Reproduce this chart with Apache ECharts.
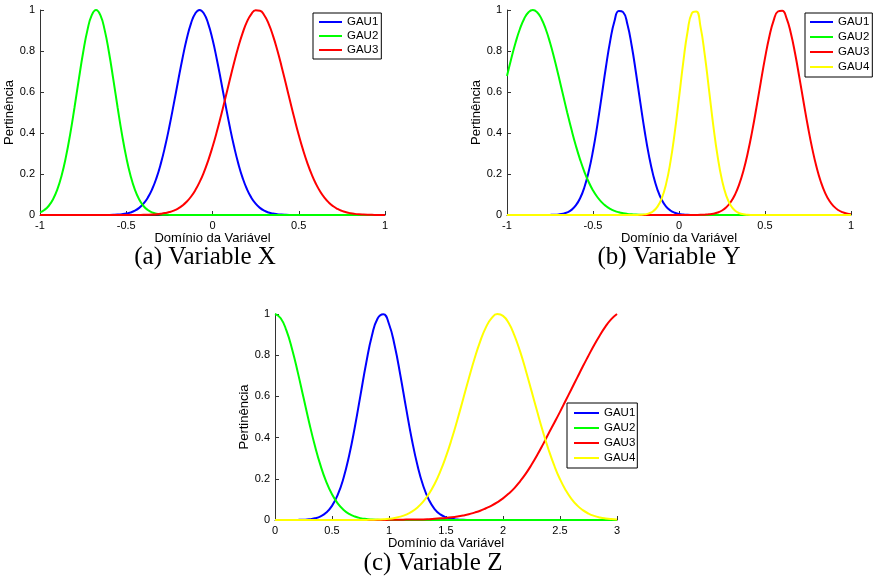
<!DOCTYPE html>
<html>
<head>
<meta charset="utf-8">
<script src="https://cdn.jsdelivr.net/npm/echarts@6/dist/echarts.min.js"></script>
<style>html,body{margin:0;padding:0;background:#fff;}#chart{width:875px;height:577px;}</style>
</head>
<body>
<div id="chart"></div>
<script>
// ---- Data ----
const xAB = [-1,-0.975,-0.95,-0.925,-0.9,-0.875,-0.85,-0.825,-0.8,-0.775,
  -0.75,-0.725,-0.7,-0.675,-0.65,-0.625,-0.6,-0.575,-0.55,-0.525,
  -0.5,-0.475,-0.45,-0.425,-0.4,-0.375,-0.35,-0.325,-0.3,-0.275,
  -0.25,-0.225,-0.2,-0.175,-0.15,-0.125,-0.1,-0.075,-0.05,-0.025,
  0,0.025,0.05,0.075,0.1,0.125,0.15,0.175,0.2,0.225,
  0.25,0.275,0.3,0.325,0.35,0.375,0.4,0.425,0.45,0.475,
  0.5,0.525,0.55,0.575,0.6,0.625,0.65,0.675,0.7,0.725,
  0.75,0.775,0.8,0.825,0.85,0.875,0.9,0.925,0.95,0.975,
  1];
const xC = [0,0.05,0.1,0.15,0.2,0.25,0.3,0.35,0.4,0.45,
  0.5,0.55,0.6,0.65,0.7,0.75,0.8,0.85,0.9,0.95,
  1,1.05,1.1,1.15,1.2,1.25,1.3,1.35,1.4,1.45,
  1.5,1.55,1.6,1.65,1.7,1.75,1.8,1.85,1.9,1.95,
  2,2.05,2.1,2.15,2.2,2.25,2.3,2.35,2.4,2.45,
  2.5,2.55,2.6,2.65,2.7,2.75,2.8,2.85,2.9,2.95,
  3];

// (a) Variable X
const aGAU1 = [0,0,0,0,0,0,0,0,0,0,
  0,0,0,0,0.0001,0.0002,0.0005,0.0011,0.0021,0.0039,
  0.0070,0.0124,0.0211,0.0347,0.0551,0.0847,0.1256,0.1800,0.2494,0.3337,
  0.4316,0.5394,0.6514,0.7601,0.8570,0.9337,0.9830,1,0.9830,0.9337,
  0.8570,0.7601,0.6514,0.5394,0.4316,0.3337,0.2494,0.1800,0.1256,0.0847,
  0.0551,0.0347,0.0211,0.0124,0.0070,0.0039,0.0021,0.0011,0.0005,0.0002,
  0.0001,0,0,0,0,0,0,0,0,0,
  0,0,0,0,0,0,0,0,0,0,
  0];
const aGAU2 = [0.0127,0.0243,0.0439,0.0756,0.1234,0.1915,0.2821,0.3947,0.5243,0.6615,
  0.7926,0.9018,0.9745,1,0.9745,0.9018,0.7926,0.6615,0.5243,0.3947,
  0.2821,0.1915,0.1234,0.0756,0.0439,0.0243,0.0127,0.0063,0.0030,0.0013,
  0.0006,0.0002,0.0001,0,0,0,0,0,0,0,
  0,0,0,0,0,0,0,0,0,0,
  0,0,0,0,0,0,0,0,0,0,
  0,0,0,0,0,0,0,0,0,0,
  0,0,0,0,0,0,0,0,0,0,
  0];
const aGAU3 = [0,0,0,0,0,0,0,0,0,0,
  0,0,0,0,0,0,0,0,0,0,
  0.0001,0.0001,0.0003,0.0005,0.0008,0.0014,0.0023,0.0037,0.0060,0.0094,
  0.0143,0.0215,0.0316,0.0456,0.0643,0.0889,0.1205,0.1601,0.2083,0.2655,
  0.3317,0.4059,0.4868,0.5719,0.6584,0.7427,0.8207,0.8887,0.9429,0.9802,
  0.9984,0.9963,0.9742,0.9333,0.8761,0.8058,0.7261,0.6412,0.5547,0.4702,
  0.3905,0.3177,0.2533,0.1979,0.1515,0.1136,0.0835,0.0601,0.0424,0.0293,
  0.0198,0.0132,0.0086,0.0055,0.0034,0.0021,0.0012,0.0007,0.0004,0.0002,
  0.0001];

// (b) Variable Y
const bGAU1 = [0,0,0,0,0,0,0,0,0.0001,0.0002,
  0.0005,0.0012,0.0028,0.0062,0.0128,0.0251,0.0466,0.0817,0.1353,0.2118,
  0.3132,0.4376,0.5777,0.7206,0.8493,0.9460,0.9955,0.9898,0.9300,0.8256,
  0.6926,0.5489,0.4111,0.2909,0.1945,0.1229,0.0734,0.0414,0.0221,0.0111,
  0.0053,0.0024,0.0010,0.0004,0.0002,0.0001,0,0,0,0,
  0,0,0,0,0,0,0,0,0,0,
  0,0,0,0,0,0,0,0,0,0,
  0,0,0,0,0,0,0,0,0,0,
  0];
const bGAU2 = [0.6777,0.7632,0.8411,0.9073,0.9577,0.9892,1,0.9892,0.9577,0.9073,
  0.8411,0.7632,0.6777,0.5887,0.5005,0.4165,0.3391,0.2703,0.2107,0.1608,
  0.1201,0.0878,0.0628,0.0439,0.0301,0.0202,0.0132,0.0085,0.0053,0.0033,
  0.0020,0.0012,0.0007,0.0004,0.0002,0.0001,0.0001,0,0,0,
  0,0,0,0,0,0,0,0,0,0,
  0,0,0,0,0,0,0,0,0,0,
  0,0,0,0,0,0,0,0,0,0,
  0,0,0,0,0,0,0,0,0,0,
  0];
const bGAU3 = [0,0,0,0,0,0,0,0,0,0,
  0,0,0,0,0,0,0,0,0,0,
  0,0,0,0,0,0,0,0,0,0,
  0,0,0,0,0,0,0,0,0,0,
  0,0,0.0001,0.0002,0.0004,0.0008,0.0017,0.0034,0.0066,0.0122,
  0.0219,0.0377,0.0621,0.0982,0.1490,0.2170,0.3033,0.4067,0.5232,0.6459,
  0.7651,0.8697,0.9485,0.9926,0.9967,0.9603,0.8878,0.7876,0.6703,0.5475,
  0.4291,0.3227,0.2328,0.1612,0.1071,0.0683,0.0418,0.0245,0.0138,0.0075,
  0.0039];
const bGAU4 = [0,0,0,0,0,0,0,0,0,0,
  0,0,0,0,0,0,0,0,0,0,
  0,0,0,0,0,0,0,0,0,0.0001,
  0.0003,0.0010,0.0030,0.0078,0.0186,0.0408,0.0822,0.1519,0.2576,0.4004,
  0.5709,0.7465,0.8952,0.9846,0.9931,0.9187,0.7795,0.6065,0.4328,0.2833,
  0.1700,0.0936,0.0473,0.0219,0.0093,0.0036,0.0013,0.0004,0.0001,0,
  0,0,0,0,0,0,0,0,0,0,
  0,0,0,0,0,0,0,0,0,0,
  0];

// (c) Variable Z
const cGAU1 = [0,0,0.0001,0.0002,0.0005,0.0014,0.0034,0.0081,0.0176,0.0359,
  0.0685,0.1217,0.2017,0.3120,0.4503,0.6065,0.7622,0.8939,0.9781,0.9986,
  0.9514,0.8457,0.7014,0.5429,0.3921,0.2642,0.1661,0.0975,0.0533,0.0273,
  0.0130,0.0058,0.0024,0.0009,0.0003,0.0001,0,0,0,0,
  0,0,0,0,0,0,0,0,0,0,
  0,0,0,0,0,0,0,0,0,0,
  0];
const cGAU2 = [1,0.9794,0.9201,0.8291,0.7166,0.5942,0.4725,0.3604,0.2638,0.1851,
  0.1246,0.0805,0.0499,0.0296,0.0169,0.0092,0.0048,0.0024,0.0012,0.0005,
  0.0002,0.0001,0,0,0,0,0,0,0,0,
  0,0,0,0,0,0,0,0,0,0,
  0,0,0,0,0,0,0,0,0,0,
  0,0,0,0,0,0,0,0,0,0,
  0];
const cGAU3 = [0,0,0,0,0,0,0,0,0,0,
  0,0,0,0,0,0,0,0,0,0,
  0.001,0.001,0.001,0.002,0.002,0.003,0.003,0.004,0.006,0.008,
  0.010,0.013,0.017,0.022,0.028,0.036,0.045,0.057,0.070,0.086,
  0.105,0.128,0.155,0.188,0.225,0.268,0.315,0.366,0.420,0.472,
  0.525,0.580,0.635,0.690,0.745,0.798,0.850,0.897,0.940,0.975,
  1.000];
const cGAU4 = [0,0,0,0,0,0,0,0,0,0,
  0,0,0,0.0001,0.0001,0.0003,0.0006,0.0011,0.0019,0.0035,
  0.0060,0.0101,0.0164,0.0261,0.0404,0.0608,0.0889,0.1265,0.1751,0.2357,
  0.3086,0.3930,0.4868,0.5863,0.6869,0.7827,0.8674,0.9350,0.9802,0.9994,
  0.9911,0.9560,0.8968,0.8183,0.7261,0.6268,0.5262,0.4296,0.3411,0.2635,
  0.1979,0.1446,0.1027,0.0710,0.0477,0.0312,0.0198,0.0123,0.0074,0.0043,
  0.0025];

const legendNames = ['GAU1','GAU2','GAU3','GAU4'];
const captions = ['(a) Variable X','(b) Variable Y','(c) Variable Z'];
const xTitle = 'Domínio da Variável';
const yTitle = 'Pertinência';

// ---- Styling ----
const COLORS = {GAU1:'#0000ff', GAU2:'#00ff00', GAU3:'#ff0000', GAU4:'#ffff00'};
const SANS = 'Liberation Sans';

function pairs(xs, ys){ return xs.map((x,i)=>[x, ys[i]]); }

const grids = [
  {left:40, top:10, width:345, height:205},
  {left:507, top:10, width:344, height:205},
  {left:275, top:314, width:342, height:206}
];
const xRanges = [[-1,1,0.5],[-1,1,0.5],[0,3,0.5]];
const xNameGaps = [16,16,16];
const yNameGaps = [22,22,23];

function xAxisCfg(i){
  return {
    type:'value', gridIndex:i, min:xRanges[i][0], max:xRanges[i][1], interval:xRanges[i][2],
    name:xTitle, nameLocation:'middle', nameGap:xNameGaps[i],
    nameTextStyle:{fontFamily:SANS, fontSize:13, color:'#000'},
    axisLine:{show:true, onZero:false, lineStyle:{color:'#333', width:1}},
    axisTick:{show:true, inside:true, length:4, lineStyle:{color:'#333'}},
    axisLabel:{fontFamily:SANS, fontSize:11, color:'#000', margin:5},
    splitLine:{show:false}
  };
}
function yAxisCfg(i){
  return {
    type:'value', gridIndex:i, min:0, max:1, interval:0.2,
    name:yTitle, nameLocation:'middle', nameGap:yNameGaps[i],
    nameTextStyle:{fontFamily:SANS, fontSize:13, color:'#000'},
    axisLine:{show:true, onZero:false, lineStyle:{color:'#333', width:1}},
    axisTick:{show:true, inside:true, length:4, lineStyle:{color:'#333'}},
    axisLabel:{fontFamily:SANS, fontSize:11, color:'#000', margin:5},
    splitLine:{show:false}
  };
}

function line(name, gi, xs, ys){
  return {
    name:name, type:'line', xAxisIndex:gi, yAxisIndex:gi,
    data:pairs(xs, ys), showSymbol:false, symbol:'none', smooth:true,
    lineStyle:{color:COLORS[name], width:2}, itemStyle:{color:COLORS[name]},
    emphasis:{disabled:true}, animation:false
  };
}

const series = [
  line('GAU1',0,xAB,aGAU1), line('GAU2',0,xAB,aGAU2), line('GAU3',0,xAB,aGAU3),
  line('GAU1',1,xAB,bGAU1), line('GAU2',1,xAB,bGAU2), line('GAU3',1,xAB,bGAU3), line('GAU4',1,xAB,bGAU4),
  line('GAU1',2,xC,cGAU1), line('GAU2',2,xC,cGAU2), line('GAU3',2,xC,cGAU3), line('GAU4',2,xC,cGAU4)
];

function legendCfg(left, top, n, iw, gap, pad){
  return {
    left:left, top:top, orient:'vertical', data:legendNames.slice(0,n),
    icon:'rect', itemWidth:iw, itemHeight:2, itemGap:gap, padding:pad,
    borderColor:'#000', borderWidth:1, backgroundColor:'#fff', selectedMode:false,
    textStyle:{fontFamily:SANS, fontSize:11.5, color:'#000'}
  };
}

const capPos = [[205,257],[669,257],[433,563]];

const option = {
  animation:false,
  backgroundColor:'#fff',
  grid:grids,
  xAxis:[0,1,2].map(xAxisCfg),
  yAxis:[0,1,2].map(yAxisCfg),
  legend:[
    legendCfg(313,13,3,23,2,[3,3,3,6]),
    legendCfg(805,13,4,23,3,[3,3,4,5]),
    legendCfg(567,403,4,25,3,[4,2,4,7])
  ],
  graphic: captions.map((t,i)=>({
    type:'text', x:capPos[i][0], y:capPos[i][1],
    style:{text:t, fontFamily:'Liberation Serif', fontSize:25, fill:'#000', textAlign:'center', textVerticalAlign:'middle'}
  })),
  series:series
};

const chart = echarts.init(document.getElementById('chart'), null, {renderer:'canvas'});
chart.setOption(option);
</script>
</body>
</html>
